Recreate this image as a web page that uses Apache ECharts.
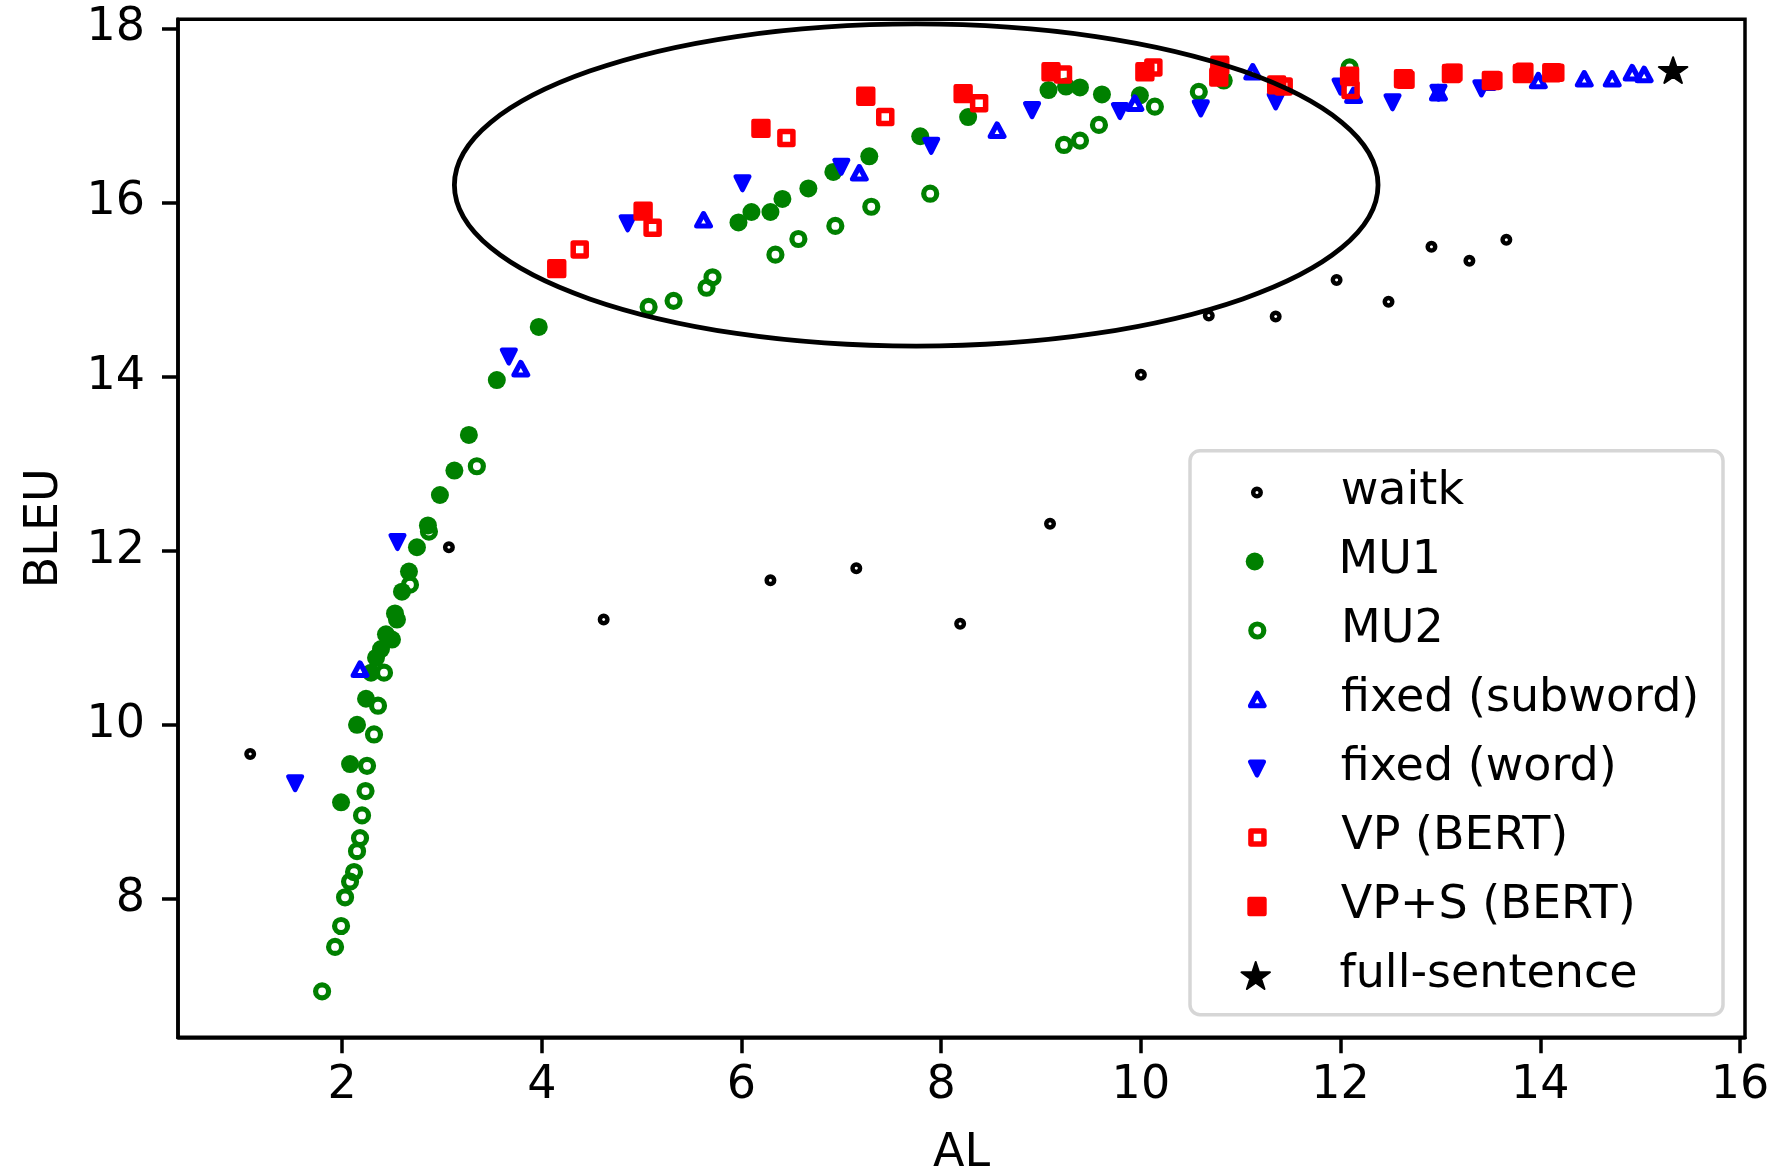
<!DOCTYPE html>
<html><head><meta charset="utf-8">
<script src="https://cdn.jsdelivr.net/npm/echarts@6/dist/echarts.min.js"></script>
<style>html,body{margin:0;padding:0;background:#fff}#chart{width:1774px;height:1173px}</style>
</head><body><div id="chart"></div>
<script>
// ---- data (AL, BLEU) ----
const waitk = [[1.08,9.665],[3.07,12.04],[4.62,11.21],[6.29,11.66],[7.15,11.80],[8.19,11.16],[9.09,12.31],[10.0,14.02],[10.68,14.70],[11.35,14.69],[11.96,15.11],[12.48,14.86],[12.91,15.49],[13.29,15.33],[13.66,15.57]];
const mu1 = [[1.99,9.11],[2.08,9.55],[2.15,10.00],[2.24,10.30],[2.29,10.60],[2.34,10.77],[2.39,10.87],[2.44,11.04],[2.50,10.98],[2.53,11.28],[2.55,11.21],[2.60,11.53],[2.67,11.76],[2.75,12.04],[2.86,12.29],[2.98,12.64],[3.125,12.92],[3.27,13.33],[3.55,13.96],[3.97,14.57],[5.97,15.77],[6.10,15.89],[6.29,15.89],[6.41,16.04],[6.67,16.16],[6.92,16.35],[7.28,16.53],[7.79,16.76],[8.27,16.98],[9.075,17.29],[9.25,17.33],[9.39,17.32],[9.61,17.24],[9.99,17.23],[10.83,17.40]];
const mu2 = [[1.80,6.94],[1.93,7.45],[1.99,7.69],[2.03,8.02],[2.08,8.20],[2.12,8.31],[2.15,8.55],[2.18,8.70],[2.20,8.96],[2.235,9.24],[2.25,9.53],[2.32,9.89],[2.36,10.22],[2.42,10.60],[2.68,11.61],[2.87,12.22],[3.35,12.97],[5.07,14.80],[5.32,14.87],[5.65,15.02],[5.71,15.14],[6.34,15.40],[6.57,15.58],[6.94,15.73],[7.30,15.95],[7.89,16.10],[9.23,16.66],[9.39,16.71],[9.58,16.89],[10.14,17.10],[10.58,17.27],[12.09,17.55]];
const fixedSubword = [[2.18,10.64],[3.79,14.09],[5.62,15.80],[7.18,16.34],[8.56,16.83],[9.94,17.14],[11.12,17.50],[12.13,17.23],[12.98,17.26],[13.47,17.38],[13.98,17.40],[14.44,17.42],[14.72,17.42],[14.92,17.49],[15.04,17.47]];
const fixedWord = [[1.53,9.33],[2.555,12.10],[3.67,14.23],[4.86,15.76],[6.01,16.22],[7.00,16.41],[7.90,16.65],[8.91,17.06],[9.79,17.05],[10.60,17.08],[11.35,17.16],[12.00,17.33],[12.52,17.15],[12.98,17.26],[13.41,17.31]];
const vpBert = [[4.38,15.46],[5.11,15.71],[6.45,16.74],[7.44,16.98],[8.38,17.14],[9.22,17.47],[10.125,17.55],[11.43,17.33],[12.10,17.29],[12.65,17.41],[13.13,17.49],[13.53,17.40],[13.84,17.50],[14.15,17.49]];
const vpsBert = [[4.15,15.24],[5.015,15.90],[6.195,16.85],[7.245,17.22],[8.22,17.25],[9.10,17.50],[10.04,17.50],[10.79,17.575],[10.78,17.44],[11.36,17.35],[12.09,17.45],[12.63,17.42],[13.11,17.48],[13.51,17.40],[13.82,17.48],[14.115,17.49]];
const fullSentence = [[15.33,17.52]];
const seriesNames = ['waitk','MU1','MU2','fixed (subword)','fixed (word)','VP (BERT)','VP+S (BERT)','full-sentence'];
const xTicks = [2,4,6,8,10,12,14,16];
const yTicks = [8,10,12,14,16,18];
const ellipseCenter = [7.75, 16.2];
const ellipseSize = [9.25, 3.7];

// ---- styling ----
const FONT = 'DejaVu Sans';
const GREEN = '#008000', BLUE = '#0000ff', RED = '#ff0000', BLACK = '#000000', NONE = 'rgba(0,0,0,0)';

function starPath() {
  const pts = [];
  for (let i = 0; i < 10; i++) {
    const r = i % 2 ? 38.2 : 100;
    const a = -Math.PI / 2 + i * Math.PI / 5;
    pts.push((r * Math.cos(a)).toFixed(2) + ',' + (r * Math.sin(a)).toFixed(2));
  }
  return 'path://M' + pts.join(' L') + ' Z';
}
const STAR = starPath();
const TRI_DOWN = 'path://M0,0 L100,0 L50,100 Z';

const styles = [
  {symbol:'circle', icon:'circle', size:[7.5,7.5], rotate:0, item:{color:NONE, borderColor:BLACK, borderWidth:4.5}},
  {symbol:'circle', icon:'circle', size:[18,18], rotate:0, item:{color:GREEN, borderWidth:0}},
  {symbol:'circle', icon:'circle', size:[13,13], rotate:0, item:{color:NONE, borderColor:GREEN, borderWidth:5.2}},
  {symbol:'triangle', icon:'triangle', size:[13.5,12.5], rotate:0, item:{color:NONE, borderColor:BLUE, borderWidth:5.2, borderJoin:'round'}},
  {symbol:TRI_DOWN, icon:TRI_DOWN, size:[13.5,13.5], rotate:0, item:{color:BLUE, borderColor:BLUE, borderWidth:4.6, borderJoin:'round'}},
  {symbol:'rect', icon:'rect', size:[13,13], rotate:0, item:{color:NONE, borderColor:RED, borderWidth:5.5, borderJoin:'round'}},
  {symbol:'rect', icon:'rect', size:[14.8,14.8], rotate:0, item:{color:RED, borderColor:RED, borderWidth:4.6, borderJoin:'round'}},
  {symbol:STAR, icon:STAR, size:[28.5,27.1], rotate:0, item:{color:BLACK, borderColor:BLACK, borderWidth:2, borderJoin:'round'}}
];
const datasets = [waitk, mu1, mu2, fixedSubword, fixedWord, vpBert, vpsBert, fullSentence];

const series = datasets.map((d, i) => ({
  type: 'scatter',
  name: seriesNames[i],
  data: d,
  symbol: styles[i].symbol,
  symbolSize: styles[i].size,
  symbolRotate: styles[i].rotate,
  symbolKeepAspect: true,
  itemStyle: Object.assign({opacity: 1}, styles[i].item),
  emphasis: {disabled: true},
  z: 2
}));

series.push({
  type: 'custom',
  name: 'ellipse',
  data: [[ellipseCenter[0], ellipseCenter[1], ellipseSize[0], ellipseSize[1]]],
  encode: {x: 0, y: 1},
  z: 3,
  silent: true,
  renderItem: function (params, api) {
    const c = api.coord([api.value(0), api.value(1)]);
    const s = api.size([api.value(2), api.value(3)]);
    return {
      type: 'ellipse',
      shape: {cx: c[0], cy: c[1], rx: s[0] / 2, ry: s[1] / 2},
      style: {fill: null, stroke: BLACK, lineWidth: 4.8}
    };
  }
});

// legend: one component per row so each marker keeps its own size
const legendMarkerX = 1254.7, legendTextX = 1338.5, legendRow0 = 492.5, legendRowStep = 69.0, LH = 60;
const legends = seriesNames.map((n, i) => {
  const w = styles[i].size[0], h = styles[i].size[1];
  return {
    show: true,
    orient: 'vertical',
    left: legendMarkerX - w / 2,
    top: legendRow0 + i * legendRowStep - LH / 2,
    padding: 0,
    itemGap: 0,
    itemWidth: w,
    itemHeight: h,
    selectedMode: false,
    symbolKeepAspect: true,
    data: [{name: n, icon: styles[i].icon, itemStyle: Object.assign({}, styles[i].item)}],
    textStyle: {fontSize: 46, fontFamily: FONT, color: BLACK, lineHeight: LH,
      padding: [0, 0, 0, legendTextX - legendMarkerX - w / 2 - 5]}
  };
});

const option = {
  animation: false,
  backgroundColor: '#ffffff',
  grid: {left: 178, right: 29, top: 19.3, bottom: 135.7, containLabel: false, outerBoundsMode: 'none',
    show: true, borderColor: BLACK, borderWidth: 3.5, backgroundColor: 'rgba(0,0,0,0)'},
  xAxis: {
    type: 'value', min: 0.357, max: 16.05,
    axisLine: {show: true, onZero: false, lineStyle: {color: BLACK, width: 3.5}},
    axisTick: {show: true, inside: false, length: 16, lineStyle: {color: BLACK, width: 3.5}, customValues: xTicks},
    axisLabel: {show: true, customValues: xTicks, fontSize: 46, fontFamily: FONT, color: BLACK, margin: 26},
    splitLine: {show: false},
    name: 'AL', nameLocation: 'middle', nameGap: 94,
    nameTextStyle: {fontSize: 46, fontFamily: FONT, color: BLACK}
  },
  yAxis: {
    type: 'value', min: 6.412, max: 18.103,
    axisLine: {show: true, onZero: false, lineStyle: {color: BLACK, width: 3.5}},
    axisTick: {show: true, inside: false, length: 16, lineStyle: {color: BLACK, width: 3.5}, customValues: yTicks},
    axisLabel: {show: true, customValues: yTicks, fontSize: 46, fontFamily: FONT, color: BLACK, margin: 33},
    splitLine: {show: false},
    name: 'BLEU', nameLocation: 'middle', nameGap: 110,
    nameTextStyle: {fontSize: 46, fontFamily: FONT, color: BLACK}
  },
  legend: legends,
  graphic: [{
    type: 'rect', z: 3, silent: true,
    shape: {x: 1190, y: 450.7, width: 533, height: 564, r: 10},
    style: {fill: 'rgba(255,255,255,0.8)', stroke: '#d6d6d6', lineWidth: 3.5}
  }],
  series: series
};

const chart = echarts.init(document.getElementById('chart'), null, {renderer: 'canvas', width: 1774, height: 1173});
chart.setOption(option);
</script>
</body></html>
